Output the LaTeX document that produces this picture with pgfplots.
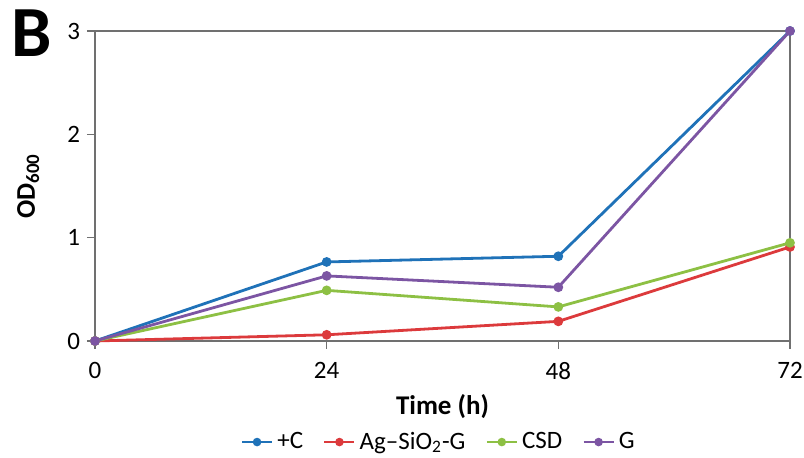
\documentclass[border=0pt]{standalone}
\usepackage{fontspec}
\setmainfont{Carlito}
\usepackage{pgfplots}
\pgfplotsset{compat=1.18}
\definecolor{cBlue}{HTML}{1F72B8}
\definecolor{cRed}{HTML}{DC3A3C}
\definecolor{cGreen}{HTML}{8DC044}
\definecolor{cPurple}{HTML}{7C55A3}
\definecolor{axgray}{HTML}{707070}

\begin{document}
\begin{tikzpicture}
% picture frame: 804x458 px at 0.5pt/px, axis origin at px (95,341)
\useasboundingbox (-47.5pt,-58.5pt) rectangle (354.5pt,170.5pt);
\begin{axis}[
    at={(0pt,0pt)}, anchor=origin,
    scale only axis,
    width=347.5pt, height=155pt,
    xmin=0, xmax=72, ymin=0, ymax=3,
    xtick={0,24,48,72}, ytick={0,1,2,3},
    axis line style={axgray, line width=0.8pt},
    tick style={axgray, line width=0.8pt},
    tick align=outside,
    xtick pos=bottom, ytick pos=left,
    major tick length=4pt,
    /pgf/number format/assume math mode=true,
    tick label style={font=\fontsize{12.5}{12.5}\selectfont},
    xticklabel style={yshift=-3pt},
    xlabel={\textbf{Time (h)}},
    ylabel={\textbf{OD\textsubscript{600}}},
    label style={font=\fontsize{13.5}{13.5}\selectfont},
    x label style={at={(axis description cs:0.5,-0.213)}, anchor=center},
    y label style={at={(axis description cs:-0.096,0.5)}, anchor=center},
    legend style={at={(axis description cs:0.496,-0.326)}, anchor=center,
        draw=none, fill=none, inner sep=0pt, legend columns=4,
        font=\fontsize{12.5}{12.5}\selectfont,
        /tikz/every odd column/.append style={column sep=0pt},
        /tikz/every even column/.append style={column sep=8pt}},
    legend image code/.code={
        \draw[#1, mark=none, line width=1.3pt] (0cm,0cm) -- (15pt,0cm);
        \fill[#1] (7.5pt,0cm) circle (1.4pt);
    },
    every axis plot/.append style={line width=1.4pt, mark=*, mark size=1.7pt},
    clip=false,
]
\addplot[cBlue, mark options={fill=cBlue, draw=cBlue}] coordinates {(0,0) (24,0.765) (48,0.82) (72,3.0)};
\addplot[cRed, mark options={fill=cRed, draw=cRed}] coordinates {(0,0) (24,0.06) (48,0.19) (72,0.91)};
\addplot[cGreen, mark options={fill=cGreen, draw=cGreen}] coordinates {(0,0) (24,0.49) (48,0.33) (72,0.95)};
\addplot[cPurple, mark options={fill=cPurple, draw=cPurple}] coordinates {(0,0) (24,0.63) (48,0.52) (72,3.0)};
\legend{+C, Ag\textendash SiO\textsubscript{2}-G, CSD, G}
\end{axis}
\node[font=\fontsize{36}{36}\selectfont\bfseries] at (-31.5pt,154pt) {B};
\end{tikzpicture}
\end{document}
